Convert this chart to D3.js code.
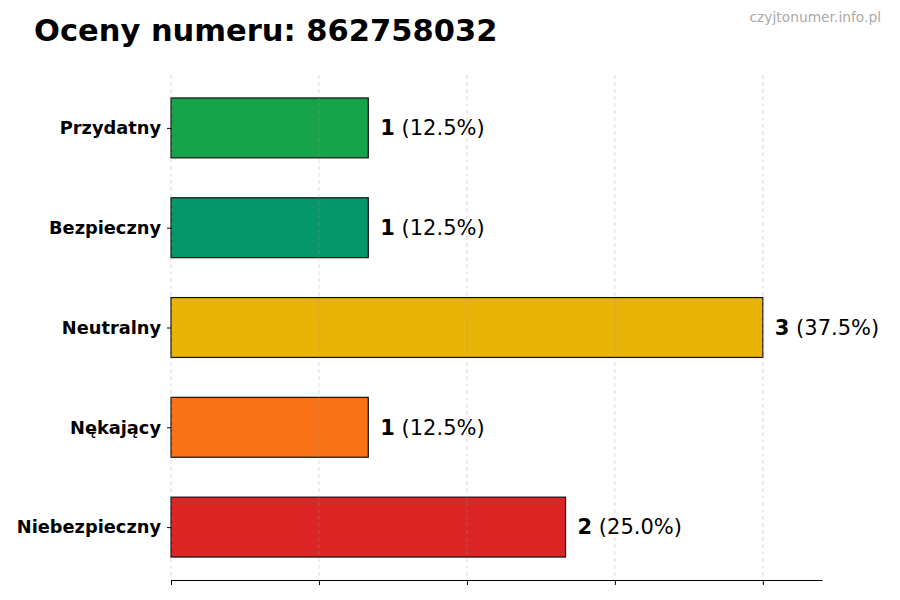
<!DOCTYPE html>
<html>
<head>
<meta charset="utf-8">
<script src="https://cdn.jsdelivr.net/npm/d3@7"></script>
<style>
  body { margin: 0; background: #fff; }
  text { font-family: "DejaVu Sans", sans-serif; }
</style>
</head>
<body>
<div id="chart"></div>
<script>
// data (bottom to top)
var categories = ["Niebezpieczny", "Nękający", "Neutralny", "Bezpieczny", "Przydatny"];
var counts = [2, 1, 3, 1, 1];
var percents = ["25.0%", "12.5%", "37.5%", "12.5%", "12.5%"];
var colors = ["#dc2626", "#f97316", "#eab308", "#059669", "#16a34a"];
var xTicks = [0, 0.75, 1.5, 2.25, 3];

var width = 900, height = 600;
var margin = {top: 75, right: 78, bottom: 20, left: 171};

var svg = d3.select("#chart")
  .append("svg")
    .attr("width", width)
    .attr("height", height);

var x = d3.scaleLinear()
  .domain([0, d3.max(counts) * 1.1])
  .range([margin.left, width - margin.right]);

var y = d3.scaleLinear()
  .domain([-0.53, categories.length - 1 + 0.53])
  .range([height - margin.bottom, margin.top]);

var barH = y(0) - y(0.6);

// bars
svg.selectAll("rect.bar")
  .data(counts)
  .enter()
  .append("rect")
    .attr("class", "bar")
    .attr("x", x(0))
    .attr("y", function(d, i) { return y(i) - barH / 2; })
    .attr("width", function(d) { return x(d) - x(0); })
    .attr("height", barH)
    .style("fill", function(d, i) { return colors[i]; })
    .style("stroke", "#111")
    .style("stroke-width", 1.2);

// grid lines (on top, faint)
svg.append("g")
  .selectAll("line")
  .data(xTicks)
  .enter()
  .append("line")
    .attr("x1", function(d) { return x(d); })
    .attr("x2", function(d) { return x(d); })
    .attr("y1", margin.top)
    .attr("y2", height - margin.bottom)
    .style("stroke", "#999")
    .style("stroke-opacity", 0.45)
    .style("stroke-dasharray", "4,3")
    .style("stroke-width", 0.8);

// x axis, no labels
svg.append("g")
  .attr("transform", "translate(0," + (height - margin.bottom) + ")")
  .call(d3.axisBottom(x).tickValues(xTicks).tickFormat("").tickSize(5).tickSizeOuter(0))
  .call(function(g) { g.select(".domain").attr("stroke", "#000"); });

// y axis, labels only
var yAxis = svg.append("g")
  .attr("transform", "translate(" + margin.left + ",0)")
  .call(d3.axisLeft(y)
    .tickValues(d3.range(categories.length))
    .tickFormat(function(i) { return categories[i]; })
    .tickSize(4)
    .tickPadding(6));
yAxis.select(".domain").remove();
yAxis.selectAll("text")
  .style("font-family", "DejaVu Sans, sans-serif")
  .style("font-size", "17.8px")
  .style("font-weight", "bold")
  .style("fill", "#000");

// value labels
var labels = svg.selectAll("text.val")
  .data(counts)
  .enter()
  .append("text")
    .attr("class", "val")
    .attr("x", function(d) { return x(d) + 12; })
    .attr("y", function(d, i) { return y(i); })
    .attr("dy", "0.35em")
    .style("font-size", "21px")
    .style("fill", "#000");
labels.append("tspan")
  .style("font-weight", "bold")
  .text(function(d) { return d; });
labels.append("tspan")
  .text(function(d, i) { return " (" + percents[i] + ")"; });

// title
svg.append("text")
  .attr("x", 34)
  .attr("y", 41)
  .style("font-size", "30.5px")
  .style("font-weight", "bold")
  .style("fill", "#000")
  .text("Oceny numeru: 862758032");

// watermark
svg.append("text")
  .attr("x", 881)
  .attr("y", 22)
  .attr("text-anchor", "end")
  .style("font-size", "13.8px")
  .style("fill", "#aaa")
  .text("czyjtonumer.info.pl");
</script>
</body>
</html>
